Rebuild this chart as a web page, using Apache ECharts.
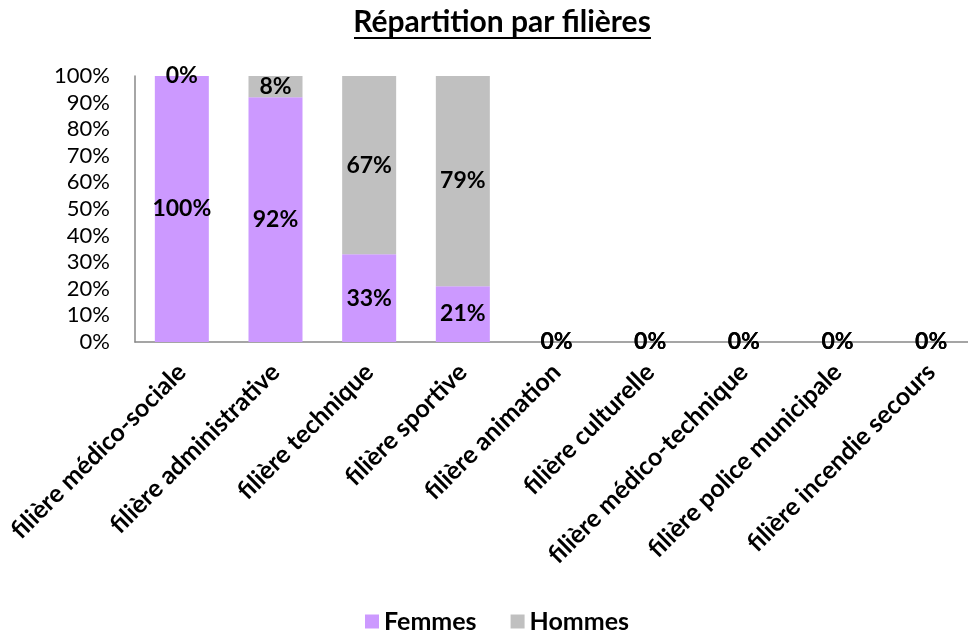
<!DOCTYPE html>
<html>
<head>
<meta charset="utf-8">
<script src="https://cdn.jsdelivr.net/npm/echarts@6/dist/echarts.min.js"></script>
<style>
  html, body { margin: 0; padding: 0; background: #fff; overflow: hidden; }
  /* the plot area runs slightly past the right edge of the window */
  #chart { width: 978px; height: 632px; }
</style>
</head>
<body>
<div id="chart"></div>
<script>
// Filières (categories)
const categories = [
  'filière médico-sociale',
  'filière administrative',
  'filière technique',
  'filière sportive',
  'filière animation',
  'filière culturelle',
  'filière médico-technique',
  'filière police municipale',
  'filière incendie secours'
];
// Share of women and men per filière, in percent
const femmes = [100, 92, 33, 21, 0, 0, 0, 0, 0];
const hommes = [0, 8, 67, 79, 0, 0, 0, 0, 0];
// Y axis ticks
const yTicks = [0, 10, 20, 30, 40, 50, 60, 70, 80, 90, 100];

const FONT = 'Lato, "Open Sans", sans-serif';

const chart = echarts.init(document.getElementById('chart'), null, { renderer: 'canvas' });

const labelStyle = {
  show: true,
  position: 'inside',
  formatter: p => p.value + '%',
  fontFamily: FONT,
  fontWeight: 'bold',
  fontSize: 23,
  color: '#000'
};

chart.setOption({
  animation: false,
  graphic: [
    {
      type: 'text',
      x: 502,
      y: 22,
      style: {
        text: 'Répartition par filières',
        font: 'bold 30px ' + FONT,
        fill: '#000',
        align: 'center',
        verticalAlign: 'middle'
      }
    },
    {
      type: 'rect',
      shape: { x: 354, y: 37, width: 297, height: 2 },
      style: { fill: '#000' }
    }
  ],
  legend: {
    top: 604,
    left: 360,
    itemWidth: 14,
    itemHeight: 14,
    itemGap: 34,
    icon: 'rect',
    textStyle: { fontFamily: FONT, fontWeight: 'bold', fontSize: 25, color: '#000' },
    data: ['Femmes', 'Hommes']
  },
  grid: { left: 135, right: 0, top: 76, bottom: 290, containLabel: false },
  xAxis: {
    type: 'category',
    data: categories,
    axisLine: { lineStyle: { color: '#888', width: 1.5 } },
    axisTick: { show: false },
    axisLabel: {
      interval: 0,
      rotate: 45,
      margin: 26,
      fontFamily: FONT,
      fontWeight: 'bold',
      fontSize: 25,
      color: '#000'
    }
  },
  yAxis: {
    type: 'value',
    min: yTicks[0],
    max: yTicks[yTicks.length - 1],
    interval: 10,
    splitLine: { show: false },
    axisLine: { show: true, lineStyle: { color: '#888', width: 1.5 } },
    axisTick: { show: false },
    axisLabel: {
      margin: 25,
      formatter: v => v + '%',
      fontFamily: FONT,
      fontSize: 22,
      color: '#000'
    }
  },
  series: [
    {
      name: 'Femmes',
      type: 'bar',
      stack: 'total',
      barWidth: 54,
      itemStyle: { color: '#CC99FF' },
      label: labelStyle,
      data: femmes
    },
    {
      name: 'Hommes',
      type: 'bar',
      stack: 'total',
      barWidth: 54,
      itemStyle: { color: '#C0C0C0' },
      label: labelStyle,
      data: hommes
    }
  ]
});
</script>
</body>
</html>
